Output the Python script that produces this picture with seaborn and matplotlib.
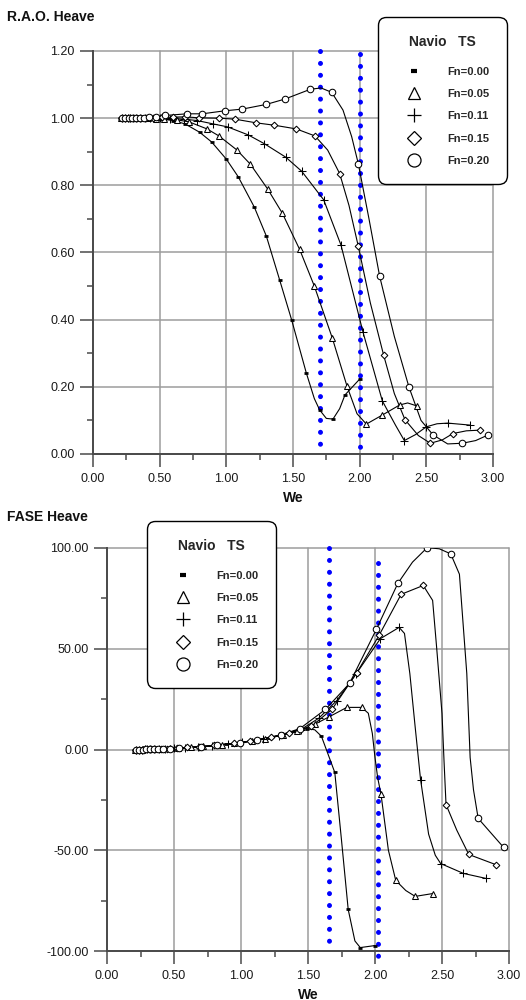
import numpy as np
import pandas as pd
import matplotlib
matplotlib.use("Agg")
import matplotlib.pyplot as plt
import seaborn as sns
from matplotlib.lines import Line2D
from matplotlib.ticker import MultipleLocator, FormatStrFormatter

# ---------------- DATA ----------------
labels = ["Fn=0.00", "Fn=0.05", "Fn=0.11", "Fn=0.15", "Fn=0.20"]
legend_title = "Navio   TS"

# R.A.O. Heave : marker points
rao_x_000 = [0.20,0.22,0.24,0.26,0.28,0.30,0.33,0.36,0.40,0.45,0.50,0.60,0.69,0.80,0.89,1.00,1.09,1.21,1.30,1.40,1.49,1.60,1.70,1.80,1.89,2.00]
rao_y_000 = [1.000,1.000,1.000,1.000,1.000,1.000,1.000,1.000,0.999,0.999,0.998,0.993,0.983,0.958,0.929,0.878,0.825,0.735,0.649,0.518,0.399,0.241,0.131,0.104,0.176,0.223]
rao_x_005 = [0.21,0.23,0.25,0.27,0.29,0.31,0.34,0.37,0.41,0.47,0.53,0.63,0.72,0.855,0.945,1.08,1.18,1.31,1.42,1.55,1.66,1.795,1.905,2.05,2.17,2.30,2.43]
rao_y_005 = [1.000,1.000,1.000,1.000,1.000,1.000,1.000,1.000,1.000,0.999,0.998,0.995,0.989,0.968,0.947,0.905,0.863,0.789,0.717,0.609,0.500,0.345,0.202,0.089,0.116,0.146,0.143]
rao_x_011 = [0.22,0.24,0.26,0.28,0.30,0.32,0.35,0.39,0.43,0.50,0.58,0.68,0.78,0.90,1.01,1.165,1.285,1.445,1.565,1.73,1.86,2.025,2.17,2.335,2.50,2.66,2.83]
rao_y_011 = [1.000,1.000,1.000,1.000,1.000,1.000,1.000,1.000,1.000,1.000,0.999,0.997,0.993,0.983,0.974,0.950,0.924,0.884,0.842,0.757,0.622,0.363,0.158,0.040,0.081,0.092,0.086]
rao_x_015 = [0.22,0.24,0.26,0.28,0.31,0.33,0.36,0.40,0.45,0.52,0.60,0.69,0.795,0.945,1.065,1.225,1.36,1.525,1.665,1.85,1.99,2.18,2.34,2.53,2.70,2.90]
rao_y_015 = [1.000,1.000,1.000,1.000,1.000,1.000,1.000,1.000,1.001,1.002,1.003,1.004,1.001,1.000,0.997,0.986,0.979,0.968,0.947,0.835,0.618,0.294,0.102,0.032,0.061,0.071]
rao_x_020 = [0.22,0.24,0.27,0.29,0.32,0.35,0.38,0.42,0.47,0.54,0.705,0.82,0.99,1.12,1.30,1.44,1.63,1.79,1.99,2.15,2.37,2.55,2.77,2.965]
rao_y_020 = [1.000,1.000,1.000,1.000,1.000,1.000,1.000,1.002,1.004,1.008,1.013,1.013,1.022,1.027,1.041,1.057,1.086,1.077,0.864,0.529,0.199,0.057,0.032,0.057]

# R.A.O. Heave : extra points (between markers)
rao_cx_000 = [1.66,1.75,1.85]
rao_cy_000 = [0.165,0.106,0.135]
rao_cx_005 = [1.98,2.36]
rao_cy_005 = [0.120,0.152]
rao_cx_011 = [2.27,2.42,2.58]
rao_cy_011 = [0.085,0.058,0.090]
rao_cx_015 = [1.76,1.92,2.08,2.26,2.44,2.62,2.80]
rao_cy_015 = [0.905,0.740,0.450,0.180,0.055,0.042,0.069]
rao_cx_020 = [1.71,1.875,1.94,2.07,2.26,2.46,2.66,2.87]
rao_cy_020 = [1.090,1.024,0.945,0.700,0.350,0.100,0.030,0.040]

# FASE Heave : marker points
fase_x_000 = [0.20,0.22,0.24,0.26,0.28,0.30,0.33,0.36,0.40,0.45,0.50,0.60,0.69,0.80,0.89,1.00,1.09,1.21,1.30,1.40,1.49,1.60,1.70,1.80,1.89,2.00]
fase_y_000 = [0.0,0.0,0.0,0.1,0.1,0.1,0.2,0.2,0.3,0.4,0.6,1.0,1.4,2.0,2.6,3.5,4.4,5.9,7.2,9.0,10.3,6.6,-11.4,-79.4,-98.3,-97.3]
fase_x_005 = [0.21,0.23,0.25,0.27,0.29,0.31,0.34,0.37,0.41,0.47,0.53,0.63,0.72,0.855,0.945,1.08,1.18,1.31,1.42,1.55,1.66,1.79,1.90,2.045,2.155,2.30,2.43]
fase_y_005 = [0.0,0.0,0.0,0.1,0.1,0.1,0.2,0.3,0.3,0.5,0.6,1.1,1.5,2.3,3.0,4.2,5.3,7.2,9.0,12.5,16.3,20.9,20.9,-22.3,-65.0,-72.9,-71.5]
fase_x_011 = [0.22,0.24,0.26,0.28,0.30,0.32,0.35,0.39,0.43,0.50,0.58,0.68,0.78,0.90,1.01,1.165,1.285,1.445,1.58,1.715,1.86,2.04,2.18,2.34,2.49,2.66,2.83]
fase_y_011 = [0.0,0.0,0.0,0.1,0.1,0.1,0.2,0.3,0.3,0.6,0.9,1.3,1.9,2.7,3.6,5.2,6.8,9.8,15.5,24.3,37.6,55.0,60.6,-14.9,-56.6,-61.5,-64.0]
fase_x_015 = [0.22,0.24,0.26,0.28,0.31,0.33,0.36,0.40,0.45,0.52,0.60,0.69,0.795,0.945,1.065,1.225,1.36,1.525,1.68,1.865,2.03,2.195,2.36,2.53,2.70,2.90]
fase_y_015 = [0.0,0.0,0.0,0.1,0.1,0.1,0.2,0.3,0.4,0.6,1.0,1.4,2.0,3.0,4.0,6.0,8.2,11.5,20.0,38.2,56.6,77.0,81.4,-27.3,-52.1,-57.1]
fase_x_020 = [0.22,0.24,0.27,0.29,0.32,0.35,0.38,0.42,0.47,0.54,0.705,0.82,0.99,1.12,1.30,1.44,1.63,1.81,2.01,2.17,2.39,2.565,2.77,2.96]
fase_y_020 = [0.0,0.0,0.0,0.1,0.1,0.1,0.2,0.3,0.4,0.6,1.3,2.0,3.4,4.8,7.3,10.4,19.9,32.8,59.6,82.4,100.2,97.1,-34.2,-48.6]

# FASE Heave : extra points
fase_cx_000 = [1.55,1.75,1.85]
fase_cy_000 = [9.8,-45.0,-95.0]
fase_cx_005 = [1.95,1.98,2.00,2.02,2.10,2.23]
fase_cy_005 = [18.0,8.0,-4.0,-14.0,-50.0,-70.0]
fase_cx_011 = [2.22,2.26,2.30,2.40,2.45]
fase_cy_011 = [57.6,37.7,11.0,-42.0,-52.5]
fase_cx_015 = [2.43,2.46,2.50,2.515,2.61]
fase_cy_015 = [74.0,50.6,17.9,-5.5,-40.0]
fase_cx_020 = [2.28,2.48,2.63,2.685,2.71,2.735]
fase_cy_020 = [93.0,99.6,87.0,37.7,-4.0,-20.0]

# blue dotted reference lines (We position, lower and upper end)
rao_ref_x = [1.70, 2.00]
rao_ref_lo = [0.0, -0.009]
rao_ref_hi = [1.20, 1.19]
fase_ref_x = [1.66, 2.02]
fase_ref_lo = [-100.0, -107.5]
fase_ref_hi = [99.8, 92.7]

# ---------------- STYLE ----------------
sns.set_theme(style="white")
plt.rcParams["font.family"] = ["Liberation Sans", "DejaVu Sans"]

markers = ["_", "^", "+", "D", "o"]
chart_ms = [3.0, 4.6, 6.0, 3.4, 4.7]
chart_mew = [2.0, 0.75, 0.75, 0.75, 0.75]
leg_ms = [4.0, 8.6, 10.0, 7.0, 9.4]
leg_mew = [3.0, 0.9, 0.9, 0.9, 0.9]

W, H = 526, 1000
fig = plt.figure(figsize=(W / 100, H / 100), dpi=100)
ax1 = fig.add_axes([93 / W, 1 - 454 / H, 400 / W, 403 / H])
ax2 = fig.add_axes([107 / W, 1 - 951 / H, 402 / W, 403 / H])

AX_COL = "#4a4a4a"
GRID_COL = "#9c9c9c"


def style_axes(ax, ylim, ymaj, ymin):
    ax.set_xlim(0, 3.0)
    ax.set_ylim(*ylim)
    ax.xaxis.set_major_locator(MultipleLocator(0.5))
    ax.xaxis.set_minor_locator(MultipleLocator(0.25))
    ax.yaxis.set_major_locator(MultipleLocator(ymaj))
    ax.yaxis.set_minor_locator(MultipleLocator(ymin))
    ax.xaxis.set_major_formatter(FormatStrFormatter("%.2f"))
    ax.yaxis.set_major_formatter(FormatStrFormatter("%.2f"))
    ax.set_axisbelow(True)
    ax.grid(True, which="major", color=GRID_COL, lw=1.1)
    for gl in ax.get_xgridlines() + ax.get_ygridlines():
        gl.set_clip_on(False)
    ax.tick_params(which="major", direction="out", length=9.4, width=1.1,
                   color=AX_COL, labelsize=9, pad=4, bottom=True, left=True,
                   labelcolor="#1a1a1a")
    ax.tick_params(which="minor", direction="out", length=4.6, width=1.1,
                   color=AX_COL, bottom=True, left=True)
    for s in ["top", "right"]:
        ax.spines[s].set_visible(False)
    for s in ["left", "bottom"]:
        ax.spines[s].set_color(AX_COL)
        ax.spines[s].set_linewidth(1.4)
    ax.set_xlabel("We", fontsize=10, fontweight="bold", color="#111")
    ax.xaxis.set_label_coords(0.5, -(491 - 454) / 403)
    ax.set_ylabel("")


def draw_series(ax, mx, my, cx, cy, k):
    lx = np.array(list(mx) + list(cx))
    ly = np.array(list(my) + list(cy))
    order = np.argsort(lx, kind="stable")
    df_line = pd.DataFrame({"x": lx[order], "y": ly[order]})
    sns.lineplot(data=df_line, x="x", y="y", ax=ax, color="black", lw=0.8,
                 estimator=None, sort=False, legend=False, zorder=3)
    ax.plot(mx, my, linestyle="none", marker=markers[k], markersize=chart_ms[k],
            markerfacecolor="white", markeredgecolor="black",
            markeredgewidth=chart_mew[k], color="black", zorder=4)


def draw_refs(ax, xs, los, his):
    for x, lo, hi in zip(xs, los, his):
        ax.plot([x, x], [hi, lo], color="#0000ff", lw=3.6,
                linestyle=(0, (0.01, 2.37)), dash_capstyle="round",
                clip_on=False, zorder=2.5)


rao = [(rao_x_000, rao_y_000, rao_cx_000, rao_cy_000),
       (rao_x_005, rao_y_005, rao_cx_005, rao_cy_005),
       (rao_x_011, rao_y_011, rao_cx_011, rao_cy_011),
       (rao_x_015, rao_y_015, rao_cx_015, rao_cy_015),
       (rao_x_020, rao_y_020, rao_cx_020, rao_cy_020)]
fase = [(fase_x_000, fase_y_000, fase_cx_000, fase_cy_000),
        (fase_x_005, fase_y_005, fase_cx_005, fase_cy_005),
        (fase_x_011, fase_y_011, fase_cx_011, fase_cy_011),
        (fase_x_015, fase_y_015, fase_cx_015, fase_cy_015),
        (fase_x_020, fase_y_020, fase_cx_020, fase_cy_020)]

for k, (mx, my, cx, cy) in enumerate(rao):
    draw_series(ax1, mx, my, cx, cy, k)
for k, (mx, my, cx, cy) in enumerate(fase):
    draw_series(ax2, mx, my, cx, cy, k)

draw_refs(ax1, rao_ref_x, rao_ref_lo, rao_ref_hi)
draw_refs(ax2, fase_ref_x, fase_ref_lo, fase_ref_hi)

style_axes(ax1, (0, 1.2), 0.2, 0.1)
style_axes(ax2, (-100, 100), 50, 25)

# titles
fig.text(7 / W, 1 - 17 / H, "R.A.O. Heave", fontsize=10, fontweight="bold",
         ha="left", va="center", color="#111")
fig.text(7 / W, 1 - 517 / H, "FASE Heave", fontsize=10, fontweight="bold",
         ha="left", va="center", color="#111")

# legends
handles = [Line2D([], [], linestyle="none", marker=markers[k], markersize=leg_ms[k],
                  markerfacecolor="white", markeredgecolor="black",
                  markeredgewidth=leg_mew[k], color="black") for k in range(5)]


def add_legend(x_px, y_px):
    leg = fig.legend(handles, labels, loc="upper left",
                     bbox_to_anchor=(x_px / W, 1 - y_px / H),
                     bbox_transform=fig.transFigure, borderaxespad=0,
                     frameon=True, fancybox=True, framealpha=1,
                     facecolor="white", edgecolor="black",
                     prop={"weight": "bold", "size": 8},
                     title=legend_title,
                     title_fontproperties={"weight": "bold", "size": 10},
                     borderpad=1.61, handlelength=3.26, handletextpad=1.32,
                     labelspacing=1.11, markerscale=1)
    # extra gap between the title and the entries
    leg._legend_box.sep = 12.7
    fr = leg.get_frame()
    fr.set_linewidth(1.0)
    fr.set_boxstyle("round", pad=0, rounding_size=0.75)
    return leg


add_legend(378, 17)
add_legend(147, 521)

fig.savefig("out.png", dpi=100)
